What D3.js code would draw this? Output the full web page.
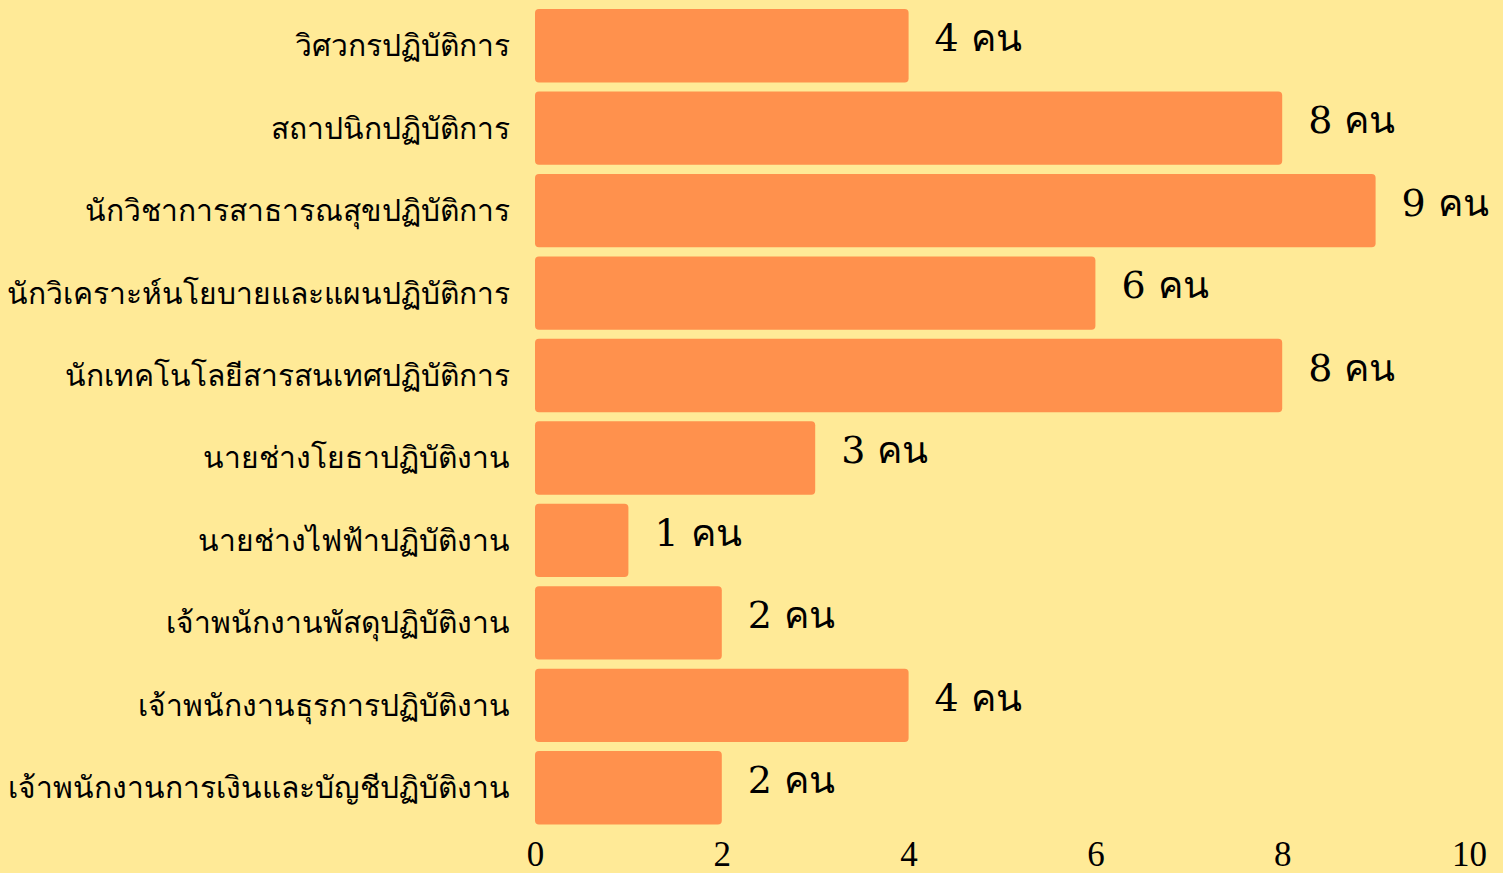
<!DOCTYPE html>
<html><head><meta charset="utf-8">
<script src="https://cdn.jsdelivr.net/npm/d3@7"></script>
<style>
html,body{margin:0;padding:0;background:#FFEA97;}
svg{display:block;}
</style></head>
<body>
<svg id="chart" width="1503" height="873"></svg>
<script>
const categories = [
  "วิศวกรปฏิบัติการ",
  "สถาปนิกปฏิบัติการ",
  "นักวิชาการสาธารณสุขปฏิบัติการ",
  "นักวิเคราะห์นโยบายและแผนปฏิบัติการ",
  "นักเทคโนโลยีสารสนเทศปฏิบัติการ",
  "นายช่างโยธาปฏิบัติงาน",
  "นายช่างไฟฟ้าปฏิบัติงาน",
  "เจ้าพนักงานพัสดุปฏิบัติงาน",
  "เจ้าพนักงานธุรการปฏิบัติงาน",
  "เจ้าพนักงานการเงินและบัญชีปฏิบัติงาน"
];
const counts = [4, 8, 9, 6, 8, 3, 1, 2, 4, 2];
const unit = "คน";
const tickValues = [0, 2, 4, 6, 8, 10];

const svg = d3.select("#chart");
const x = d3.scaleLinear().domain([0, 10]).range([535, 1469]);
const y = d3.scaleBand().domain(categories).range([4.5, 829]).paddingInner(0.11).paddingOuter(0.055);

svg.append("rect").attr("width",1503).attr("height",873).attr("fill","#FFEA97");

svg.selectAll("rect.bar").data(categories).join("rect")
  .attr("class","bar")
  .attr("x", x(0))
  .attr("y", d => y(d))
  .attr("width", (d,i) => x(counts[i]) - x(0))
  .attr("height", y.bandwidth())
  .attr("rx", 4)
  .attr("fill", "#FF914D");

// category labels
svg.selectAll("text.cat").data(categories).join("text")
  .attr("class","cat")
  .attr("x", 510)
  .attr("y", d => y(d) + y.bandwidth()/2)
  .attr("dy", "0.35em")
  .attr("text-anchor","end")
  .attr("font-family","sans-serif")
  .attr("font-size", 30)
  .attr("fill","#000")
  .text(d => d);

// value labels
svg.selectAll("text.val").data(categories).join("text")
  .attr("class","val")
  .attr("x", (d,i) => x(counts[i]) + 26)
  .attr("y", d => y(d) + y.bandwidth()/2 - 8)
  .attr("dy","0.35em")
  .attr("font-family","'DejaVu Serif', serif")
  .attr("font-size", 38)
  .attr("fill","#000")
  .text((d,i) => `${counts[i]} ${unit}`);

// x axis
const axis = d3.axisBottom(x).tickValues(tickValues).tickSize(0).tickFormat(d3.format("d"));
const g = svg.append("g").attr("transform","translate(0,838)").call(axis);
g.select(".domain").remove();
g.selectAll("text")
  .attr("font-family","'Liberation Serif', serif")
  .attr("font-size", 35)
  .attr("fill","#000");
</script>
</body></html>
